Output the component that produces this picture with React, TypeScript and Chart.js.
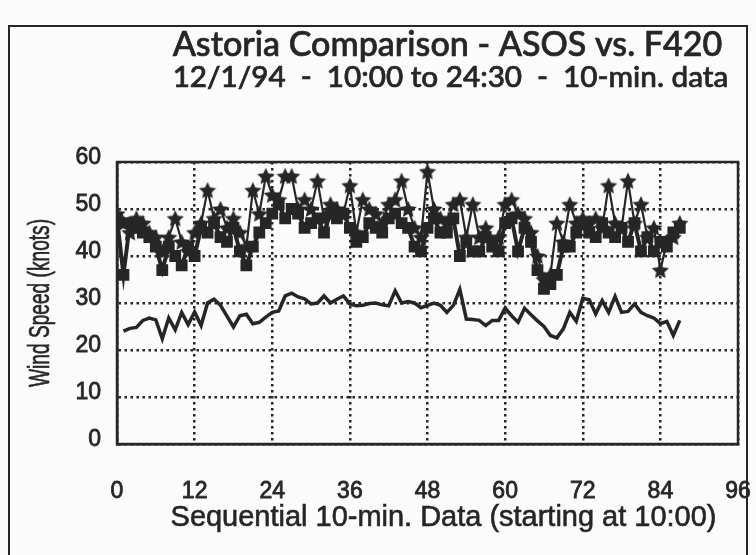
import React, { useEffect, useRef } from "react";
import { Chart, registerables } from "chart.js";
Chart.register(...registerables);

const TITLE = "Astoria Comparison - ASOS vs. F420";
const SUBTITLE = "12/1/94  -  10:00 to 24:30  -  10-min. data";
const X_TITLE = "Sequential 10-min. Data (starting at 10:00)";
const Y_TITLE = "Wind Speed (knots)";

const X_MIN = 0;
const X_MAX = 96;
const X_STEP = 12;
const Y_MIN = 0;
const Y_MAX = 60;
const Y_STEP = 10;

// Peak values (star markers), sequential index 0..87
const peakStars = [
  49, 47, 45, 48, 47, 45, 44, 41, 44, 48,
  43, 41, 45, 47, 54, 48, 50, 46, 48, 45,
  42, 54, 49, 57, 53, 52, 57, 57, 50, 52,
  50, 56, 48, 51, 50, 49, 55, 45, 52, 50,
  49, 47, 51, 52, 56, 50, 46, 44, 58, 50,
  48, 47, 51, 52, 44, 51, 44, 46, 43, 44,
  51, 52, 49, 48, 45, 40, 35, 36, 47, 43,
  51, 47, 48, 47, 48, 46, 55, 47, 46, 56,
  47, 51, 44, 46, 37, 43, 44, 47,
];

// F420 values (square markers), sequential index 0..87
const f420Squares = [
  48, 36, 47, 46, 45, 44, 42, 37, 42, 40,
  38, 42, 40, 46, 45, 47, 44, 43, 46, 41,
  38, 42, 45, 47, 49, 51, 48, 50, 49, 46,
  47, 48, 45, 49, 48, 49, 46, 43, 44, 47,
  46, 45, 48, 49, 47, 46, 42, 41, 46, 48,
  45, 45, 48, 40, 43, 41, 41, 44, 42, 41,
  47, 48, 41, 46, 43, 37, 33, 34, 36, 42,
  42, 45, 47, 45, 44, 47, 45, 44, 46, 43,
  47, 41, 44, 41, 43, 42, 45, 46,
];

// ASOS values (plain line), sequential index starting at 1
const ASOS_START = 1;
const asosLine = [
  24.0, 24.6, 24.8, 26.3, 26.8, 26.4, 22.4, 26.8, 24.3, 28.0,
  25.4, 28.1, 25.2, 30.0, 30.8, 29.5, 27.2, 24.9, 27.3, 27.6,
  25.6, 25.9, 27.0, 28.0, 28.3, 31.5, 32.1, 31.3, 30.9, 29.8,
  30.0, 31.5, 30.0, 30.8, 31.5, 29.8, 29.4, 29.5, 29.9, 30.0,
  29.6, 29.4, 32.6, 30.0, 30.3, 30.0, 29.0, 29.5, 30.0, 29.5,
  28.0, 29.5, 32.9, 26.6, 26.5, 26.3, 25.2, 26.3, 26.3, 28.9,
  27.3, 25.9, 28.9, 27.5, 26.2, 25.0, 23.1, 22.6, 24.5, 28.0,
  26.1, 31.0, 30.7, 27.7, 30.5, 28.0, 31.4, 28.0, 28.2, 29.8,
  28.0, 27.3, 26.8, 25.6, 26.1, 23.1, 26.3,
];

const INK = "#262626";

function makeStar(size: number, color: string): HTMLCanvasElement {
  const c = document.createElement("canvas");
  c.width = size;
  c.height = size;
  const g = c.getContext("2d")!;
  const cx = size / 2;
  const cy = size / 2;
  const ro = size / 2;
  const ri = ro * 0.48;
  g.beginPath();
  for (let i = 0; i < 10; i++) {
    const r = i % 2 === 0 ? ro : ri;
    const a = -Math.PI / 2 + (i * Math.PI) / 5;
    const px = cx + r * Math.cos(a);
    const py = cy + r * Math.sin(a) + 0.8;
    if (i === 0) g.moveTo(px, py);
    else g.lineTo(px, py);
  }
  g.closePath();
  g.fillStyle = color;
  g.fill();
  return c;
}

function fitText(ctx: CanvasRenderingContext2D, text: string, font: string, width: number) {
  ctx.font = `${font.replace("SIZE", "100px")}`;
  const w = ctx.measureText(text).width;
  const size = (100 * width) / w;
  ctx.font = font.replace("SIZE", `${size}px`);
}

export default function App() {
  const ref = useRef<HTMLCanvasElement | null>(null);
  useEffect(() => {
    if (!ref.current) return;
    const star = makeStar(18, INK);
    const framePlugin = {
      id: "framePlugin",
      afterDraw(chart: any) {
        const { ctx, chartArea } = chart;
        ctx.save();
        ctx.strokeStyle = INK;
        ctx.lineWidth = 2.5;
        ctx.setLineDash([]);
        ctx.strokeRect(chartArea.left, chartArea.top, chartArea.right - chartArea.left, chartArea.bottom - chartArea.top);
        ctx.fillStyle = INK;
        ctx.strokeStyle = INK;
        ctx.textAlign = "center";
        ctx.textBaseline = "middle";
        const cx = (chartArea.left + chartArea.right) / 2 + 20;
        const cy = (chartArea.top + chartArea.bottom) / 2;
        // titles
        ctx.lineWidth = 0.7;
        fitText(ctx, TITLE, "500 SIZE Lato", 550);
        ctx.fillText(TITLE, cx, 45);
        ctx.strokeText(TITLE, cx, 45);
        fitText(ctx, SUBTITLE, "500 SIZE Lato", 556);
        ctx.fillText(SUBTITLE, cx + 3, 77);
        ctx.strokeText(SUBTITLE, cx + 3, 77);
        // x axis title
        ctx.lineWidth = 0.6;
        fitText(ctx, X_TITLE, "SIZE 'Liberation Sans'", 546);
        ctx.fillText(X_TITLE, cx - 4, 518);
        ctx.strokeText(X_TITLE, cx - 4, 518);
        // y axis title (condensed)
        ctx.save();
        ctx.translate(41, cy);
        ctx.rotate(-Math.PI / 2);
        ctx.scale(0.66, 1);
        ctx.font = "29px 'Liberation Sans'";
        ctx.fillText(Y_TITLE, 0, 0);
        ctx.strokeText(Y_TITLE, 0, 0);
        ctx.restore();
        ctx.restore();
      },
    };
    const tickFont = { family: "'Liberation Sans'", size: 23 };
    const chart = new Chart(ref.current, {
      type: "line",
      data: {
        datasets: [
          {
            label: "ASOS",
            data: asosLine.map((v, i) => ({ x: i + ASOS_START, y: v })),
            borderColor: INK,
            borderWidth: 3.5,
            pointRadius: 0,
            tension: 0,
          },
          {
            label: "F420",
            data: f420Squares.map((v, i) => ({ x: i, y: v })),
            borderColor: INK,
            backgroundColor: INK,
            borderWidth: 4,
            pointStyle: "rect",
            pointRadius: 5.5,
            tension: 0,
          },
          {
            label: "Peak",
            data: peakStars.map((v, i) => ({ x: i, y: v })),
            borderColor: INK,
            backgroundColor: INK,
            borderWidth: 2.2,
            pointStyle: star as any,
            pointRadius: 9,
            tension: 0,
          },
        ],
      },
      options: {
        animation: false,
        responsive: false,
        maintainAspectRatio: false,
        layout: { padding: { left: 0, top: 162, right: 18, bottom: 0 } },
        plugins: { legend: { display: false }, tooltip: { enabled: false }, title: { display: false } },
        scales: {
          x: {
            type: "linear",
            min: X_MIN,
            max: X_MAX,
            afterFit(s: any) {
              s.height = 111;
              s.paddingRight = 0;
              s.paddingLeft = 0;
            },
            ticks: {
              stepSize: X_STEP,
              color: INK,
              font: tickFont,
              padding: 34,
              maxRotation: 0,
              textStrokeColor: INK,
              textStrokeWidth: 0.8,
            },
            grid: { color: INK, lineWidth: 2.5, drawTicks: false },
            border: { display: true, color: INK, width: 2.5, dash: [2.5, 3.5] },
            title: { display: false },
          },
          y: {
            type: "linear",
            min: Y_MIN,
            max: Y_MAX,
            afterFit(s: any) {
              s.width = 117;
              s.paddingTop = 0;
              s.paddingBottom = 0;
            },
            ticks: {
              stepSize: Y_STEP,
              color: INK,
              font: tickFont,
              padding: 16,
              labelOffset: -4,
              textStrokeColor: INK,
              textStrokeWidth: 0.8,
            },
            grid: { color: INK, lineWidth: 2.5, drawTicks: false },
            border: { display: true, color: INK, width: 2.5, dash: [2.5, 3.5] },
            title: { display: false },
          },
        },
      },
      plugins: [framePlugin],
    });
    return () => chart.destroy();
  }, []);
  return (
    <div style={{ position: "fixed", left: 0, top: 0, width: 756, height: 555, background: "#fbfbfb" }}>
      <div
        style={{
          position: "absolute",
          left: 8,
          top: 25,
          width: 740,
          height: 540,
          border: "2px solid #262626",
          boxSizing: "border-box",
        }}
      />
      <canvas ref={ref} width={756} height={555} style={{ position: "absolute", left: 0, top: 0, width: 756, height: 555 }} />
    </div>
  );
}
